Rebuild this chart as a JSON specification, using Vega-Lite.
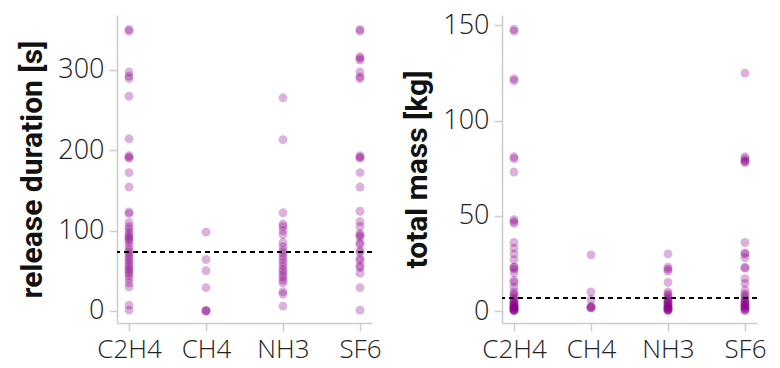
{
  "$schema": "https://vega.github.io/schema/vega-lite/v6.json",
  "padding": {"left": 17, "top": 11, "right": 0, "bottom": 0},
  "spacing": 20,
  "data": {"values": [
    {"gas":"C2H4","duration":350,"mass":148},{"gas":"C2H4","duration":348,"mass":147},{"gas":"C2H4","duration":297,"mass":122},{"gas":"C2H4","duration":292,"mass":121},{"gas":"C2H4","duration":289,"mass":81},
    {"gas":"C2H4","duration":267,"mass":80},{"gas":"C2H4","duration":214,"mass":73},{"gas":"C2H4","duration":193,"mass":48},{"gas":"C2H4","duration":191,"mass":47},{"gas":"C2H4","duration":190,"mass":46},
    {"gas":"C2H4","duration":172,"mass":36},{"gas":"C2H4","duration":154,"mass":33},{"gas":"C2H4","duration":123,"mass":30},{"gas":"C2H4","duration":121,"mass":27},{"gas":"C2H4","duration":110,"mass":23},
    {"gas":"C2H4","duration":105,"mass":23},{"gas":"C2H4","duration":102,"mass":22},{"gas":"C2H4","duration":98,"mass":20},{"gas":"C2H4","duration":95,"mass":16},{"gas":"C2H4","duration":92,"mass":15},
    {"gas":"C2H4","duration":90,"mass":12.5},{"gas":"C2H4","duration":88,"mass":10},{"gas":"C2H4","duration":85,"mass":9},{"gas":"C2H4","duration":80,"mass":8},{"gas":"C2H4","duration":76,"mass":7},
    {"gas":"C2H4","duration":73,"mass":6},{"gas":"C2H4","duration":70,"mass":5},{"gas":"C2H4","duration":67,"mass":4.5},{"gas":"C2H4","duration":64,"mass":4},{"gas":"C2H4","duration":61,"mass":3.5},
    {"gas":"C2H4","duration":58,"mass":3},{"gas":"C2H4","duration":55,"mass":2.5},{"gas":"C2H4","duration":52,"mass":2},{"gas":"C2H4","duration":50,"mass":2},{"gas":"C2H4","duration":47,"mass":1.5},
    {"gas":"C2H4","duration":44,"mass":1},{"gas":"C2H4","duration":40,"mass":1},{"gas":"C2H4","duration":35,"mass":0.5},{"gas":"C2H4","duration":30,"mass":0.5},{"gas":"C2H4","duration":7,"mass":0.3},
    {"gas":"C2H4","duration":1,"mass":0.2},
    {"gas":"CH4","duration":98,"mass":29.5},{"gas":"CH4","duration":64,"mass":10},{"gas":"CH4","duration":50,"mass":6},{"gas":"CH4","duration":29,"mass":2.5},{"gas":"CH4","duration":0.5,"mass":2},
    {"gas":"CH4","duration":0,"mass":1.8},{"gas":"CH4","duration":0,"mass":1.5},
    {"gas":"NH3","duration":265,"mass":30},{"gas":"NH3","duration":213,"mass":23},{"gas":"NH3","duration":122,"mass":22},{"gas":"NH3","duration":108,"mass":21},{"gas":"NH3","duration":105,"mass":15},
    {"gas":"NH3","duration":100,"mass":10},{"gas":"NH3","duration":95,"mass":9},{"gas":"NH3","duration":85,"mass":8},{"gas":"NH3","duration":80,"mass":7},{"gas":"NH3","duration":75,"mass":6},
    {"gas":"NH3","duration":72,"mass":5},{"gas":"NH3","duration":68,"mass":5},{"gas":"NH3","duration":64,"mass":4},{"gas":"NH3","duration":60,"mass":4},{"gas":"NH3","duration":56,"mass":3},
    {"gas":"NH3","duration":52,"mass":3},{"gas":"NH3","duration":49,"mass":2},{"gas":"NH3","duration":45,"mass":2},{"gas":"NH3","duration":42,"mass":1.5},{"gas":"NH3","duration":38,"mass":1},
    {"gas":"NH3","duration":35,"mass":1},{"gas":"NH3","duration":24,"mass":0.5},{"gas":"NH3","duration":21,"mass":0.5},{"gas":"NH3","duration":6,"mass":0.2},
    {"gas":"SF6","duration":350,"mass":125},{"gas":"SF6","duration":348,"mass":81},{"gas":"SF6","duration":316,"mass":80},{"gas":"SF6","duration":314,"mass":79},{"gas":"SF6","duration":312,"mass":78.5},
    {"gas":"SF6","duration":297,"mass":78},{"gas":"SF6","duration":291,"mass":36},{"gas":"SF6","duration":289,"mass":30.5},{"gas":"SF6","duration":193,"mass":30},{"gas":"SF6","duration":191,"mass":28},
    {"gas":"SF6","duration":190,"mass":23},{"gas":"SF6","duration":172,"mass":22.5},{"gas":"SF6","duration":154,"mass":17},{"gas":"SF6","duration":124,"mass":14.5},{"gas":"SF6","duration":111,"mass":11},
    {"gas":"SF6","duration":105,"mass":9},{"gas":"SF6","duration":96,"mass":8},{"gas":"SF6","duration":94,"mass":7},{"gas":"SF6","duration":92,"mass":6},{"gas":"SF6","duration":85,"mass":5},
    {"gas":"SF6","duration":83,"mass":4.5},{"gas":"SF6","duration":75,"mass":4},{"gas":"SF6","duration":73,"mass":3.5},{"gas":"SF6","duration":65,"mass":3},{"gas":"SF6","duration":63,"mass":2.5},
    {"gas":"SF6","duration":56,"mass":2},{"gas":"SF6","duration":54,"mass":1.5},{"gas":"SF6","duration":47,"mass":1},{"gas":"SF6","duration":29,"mass":0.5},{"gas":"SF6","duration":1,"mass":0.2}
  ]},
  "config": {
    "view": {"stroke": null},
    "font": "Open Sans",
    "axis": {
      "grid": false,
      "domainColor": "#cccccc",
      "domainWidth": 1.5,
      "tickColor": "#cccccc",
      "tickWidth": 1.5,
      "tickSize": 8,
      "labelFont": "Open Sans",
      "labelFontSize": 27,
      "labelFontWeight": 300,
      "labelColor": "#222222",
      "labelPadding": 5,
      "titleFont": "Roboto",
      "titleFontSize": 30,
      "titleFontWeight": "bold",
      "titleColor": "#111111",
      "titlePadding": 10
    },
    "axisX": {"labelPadding": 5, "labelFontSize": 26, "tickSize": 8}
  },
  "hconcat": [
    {
      "width": 255,
      "height": 308,
      "layer": [
        {
          "mark": {"type": "circle", "size": 80, "color": "darkmagenta", "opacity": 0.3},
          "encoding": {
            "x": {"field": "gas", "type": "nominal", "scale": {"type": "point", "padding": 0.156}, "axis": {"title": null, "labelAngle": 0}},
            "y": {"field": "duration", "type": "quantitative", "scale": {"domain": [-15, 368], "nice": false, "zero": false}, "axis": {"title": "release duration [s]", "values": [0, 100, 200, 300]}}
          }
        },
        {
          "mark": {"type": "rule", "strokeDash": [5, 4], "color": "black", "strokeWidth": 1.5},
          "encoding": {"y": {"datum": 73.5}}
        }
      ]
    },
    {
      "width": 255,
      "height": 308,
      "layer": [
        {
          "mark": {"type": "circle", "size": 80, "color": "darkmagenta", "opacity": 0.3},
          "encoding": {
            "x": {"field": "gas", "type": "nominal", "scale": {"type": "point", "padding": 0.156}, "axis": {"title": null, "labelAngle": 0}},
            "y": {"field": "mass", "type": "quantitative", "scale": {"domain": [-6.3, 155.5], "nice": false, "zero": false}, "axis": {"title": "total mass [kg]", "values": [0, 50, 100, 150]}}
          }
        },
        {
          "mark": {"type": "rule", "strokeDash": [5, 4], "color": "black", "strokeWidth": 1.5},
          "encoding": {"y": {"datum": 6.7}}
        }
      ]
    }
  ]
}
